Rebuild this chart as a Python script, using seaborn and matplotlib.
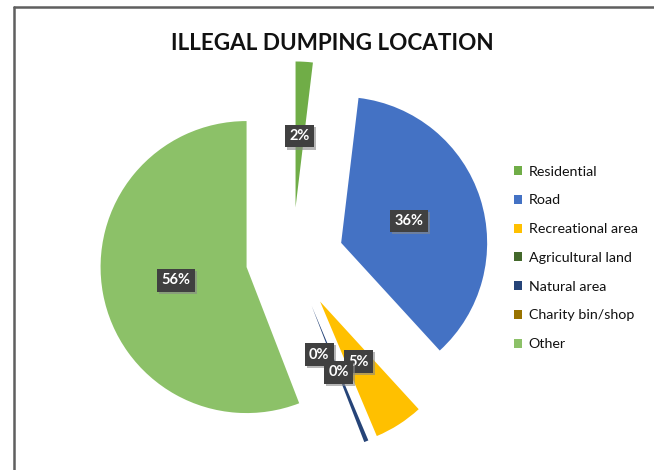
import matplotlib
matplotlib.use("Agg")
import matplotlib.pyplot as plt
import matplotlib.patheffects as pe
from matplotlib.lines import Line2D
import numpy as np
import seaborn as sns

# ---- data ----
categories = ["Residential", "Road", "Recreational area", "Agricultural land",
              "Natural area", "Charity bin/shop", "Other"]
values = [1.9, 36.3, 5.45, 0.0, 0.48, 0.0, 55.87]
pct_labels = ["2%", "36%", "5%", "0%", "0%", "", "56%"]
colors = ["#70AD47", "#4472C4", "#FFC000", "#43682B", "#264478", "#997300", "#8CC168"]

# ---- style ----
sns.set_theme(style="white")
plt.rcParams["font.family"] = ["Lato", "DejaVu Sans"]

W, H = 654, 470
fig = plt.figure(figsize=(W / 100, H / 100), dpi=100)
ax = fig.add_axes([0, 0, 1, 1])

R = 146.0              # pie radius in pixels
cx, cy = 292.5, 258.5  # pie centre in pixels (from top-left)
explode = [0.35, 0.35, 0.35, 0.35, 0.35, 0.35, 0.32]

wedges, _ = ax.pie(values, colors=sns.color_palette(colors), startangle=90,
                   counterclock=False, explode=explode, radius=1,
                   wedgeprops=dict(linewidth=0))
ax.set_xlim(-cx / R, (W - cx) / R)
ax.set_ylim((cy - H) / R, cy / R)
ax.set_aspect("auto")
ax.axis("off")

label_dist = 0.49
label_off = [(0, 0), (0, 0), (0, 0), (-21, 17), (0, 0), (0, 0), (0, 0)]
for w, lab, off in zip(wedges, pct_labels, label_off):
    if not lab:
        continue
    mid = np.deg2rad((w.theta1 + w.theta2) / 2)
    px = w.center[0] + label_dist * np.cos(mid) + off[0] / R
    py = w.center[1] + label_dist * np.sin(mid) + off[1] / R
    t = ax.text(px, py, lab, ha="center", va="center", color="white",
                fontsize=10.5, fontweight="bold",
                bbox=dict(boxstyle="square,pad=0.3", fc="#404040", ec="none"))
    t.get_bbox_patch().set_path_effects(
        [pe.SimplePatchShadow(offset=(1.5, -1.5), shadow_rgbFace="#888888", alpha=0.6),
         pe.Normal()])

fig.text(332 / W, 1 - 43 / H, "ILLEGAL DUMPING LOCATION", ha="center", va="center",
         fontsize=16.2, fontweight="bold", color="#111111")

ax.legend(wedges, categories, loc="upper left",
          bbox_to_anchor=(508 / W, 1 - 160 / H), bbox_transform=fig.transFigure,
          frameon=False, fontsize=10.3, handlelength=0.6, handleheight=0.6,
          handletextpad=0.45, labelspacing=1.17, borderaxespad=0,
          labelcolor="#111111")

# chart frame (left and top borders)
fig.add_artist(Line2D([14 / W, 14 / W], [0, 1 - 7 / H], transform=fig.transFigure,
                      color="#5f5f5f", lw=1.8))
fig.add_artist(Line2D([14 / W, 1], [1 - 7 / H, 1 - 7 / H], transform=fig.transFigure,
                      color="#5f5f5f", lw=1.8))

fig.savefig("out.png", dpi=100)
